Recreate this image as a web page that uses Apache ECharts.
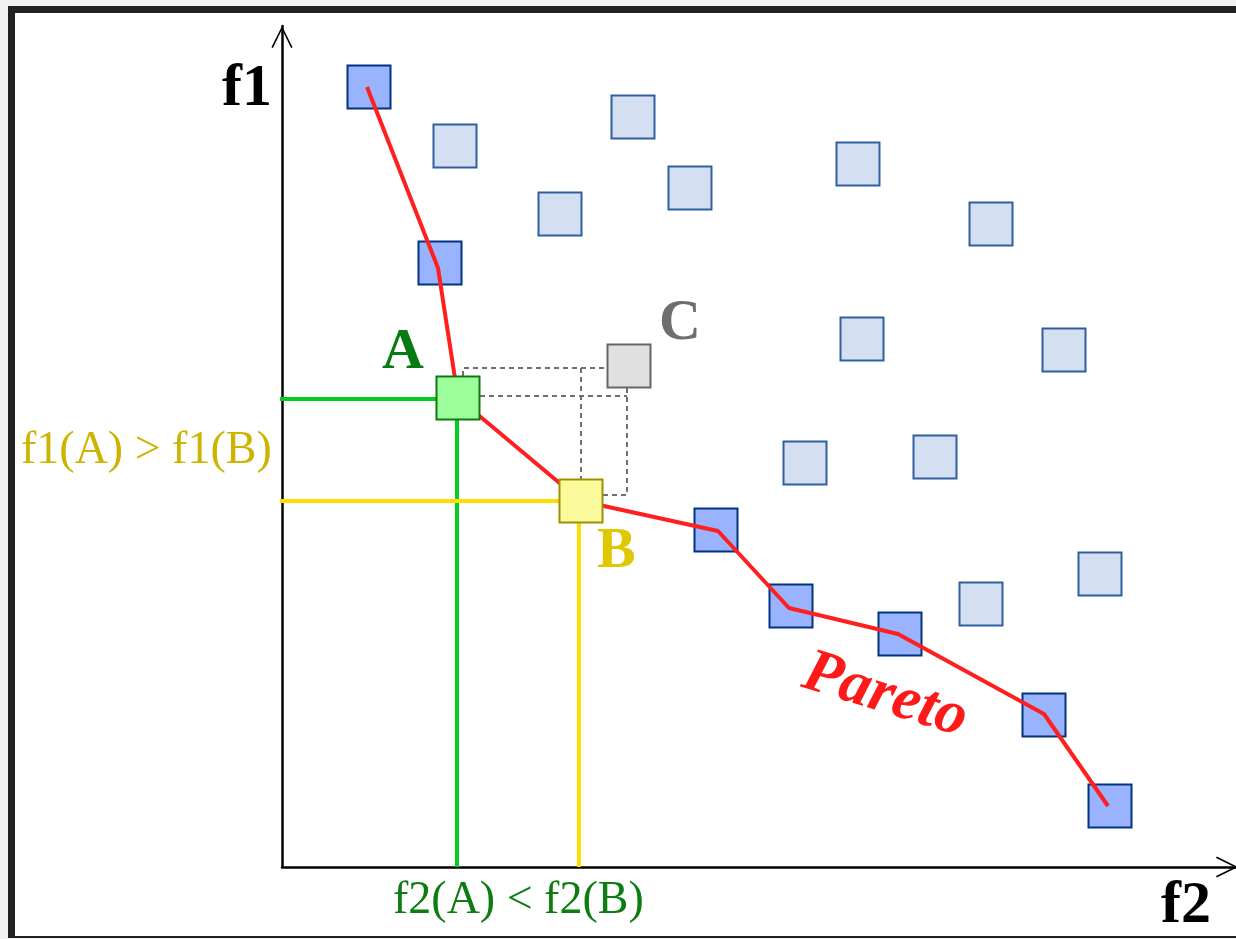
<!DOCTYPE html>
<html>
<head>
<meta charset="utf-8">
<script src="https://cdn.jsdelivr.net/npm/echarts@6/dist/echarts.min.js"></script>
<style>
html,body{margin:0;padding:0;background:#f2f2f2;}
#chart{width:1236px;height:939px;}
</style>
</head>
<body>
<div id="chart"></div>
<script>
// Data (f2 horizontal, f1 vertical)
const dominatedF2 = [173, 351, 278, 408, 576, 709, 580, 782, 523, 653, 699, 818];
const dominatedF1 = [721, 750, 653, 679, 703, 643, 528, 517, 404, 410, 263, 293];
const paretoF2 = [87, 158, 434, 509, 618, 762, 828];
const paretoF1 = [780, 604, 337, 261, 233, 152, 61];
const frontF2 = [85, 156, 176, 299, 436, 507, 616, 762, 826];
const frontF1 = [780, 599, 469, 366, 336, 259, 233, 153, 61];
const pointA = [176, 469];
const pointB = [299, 366];
const pointC = [347, 501];
const guideA = [[-3, 468], [175, 468], [175, 0]];
const guideB = [[-3, 366], [297, 366], [297, 0]];
const dashedSegments = [
  [[181, 491], [181, 499], [325, 499]],
  [[198, 471], [345, 471]],
  [[345, 479], [345, 372], [321, 372]],
  [[299, 499], [299, 388]]
];
const labelF1 = 'f1', labelF2 = 'f2';
const labelA = 'A', labelB = 'B', labelC = 'C', labelPareto = 'Pareto';
const relF1 = 'f1(A) > f1(B)', relF2 = 'f2(A) < f2(B)';

const zip = (xs, ys) => xs.map((x, i) => [x, ys[i]]);
const SERIF = '"Liberation Serif", "DejaVu Serif", serif';
const arrowPath = 'path://M10 0 L20 20 L18.6 20.8 L10 3.4 L1.4 20.8 L0 20 Z';

const chart = echarts.init(document.getElementById('chart'), null, {renderer: 'canvas'});

function sq(data, fill, border, z) {
  return {
    type: 'scatter', data: data, symbol: 'rect', symbolSize: 43, z: z,
    itemStyle: {color: fill, borderColor: border, borderWidth: 2, opacity: 1},
    emphasis: {disabled: true}, silent: true
  };
}
function ln(data, color, width, z, type) {
  return {
    type: 'line', data: data, showSymbol: false, symbol: 'none', clip: false, z: z,
    lineStyle: {color: color, width: width, type: type || 'solid'},
    emphasis: {disabled: true}, silent: true
  };
}

const series = [
  sq(zip(dominatedF2, dominatedF1), '#d4e0f1', '#2f5f9f', 2),
  sq(zip(paretoF2, paretoF1), '#99b3ff', '#003380', 2),
  ln(zip(frontF2, frontF1), '#ff1f1f', 4, 3),
  ln(guideA, '#05cc20', 4, 3),
  ln(guideB, '#ffdd00', 4, 3)
];
dashedSegments.forEach(s => series.push(ln(s, '#707070', 2, 3, [5, 4])));
series.push(sq([pointA], '#9cff9c', '#117711', 5));
series.push(sq([pointB], '#fafa9c', '#a09000', 5));
series.push(sq([pointC], '#e0e0e0', '#666666', 5));

function txt(text, x, y, size, color, weight, style, extra) {
  return Object.assign({
    type: 'text', x: x, y: y, z: 100, silent: true,
    style: {text: text, fill: color, font: (style || 'normal') + ' ' + (weight || 'normal') + ' ' + size + 'px ' + SERIF,
      textAlign: 'left', textVerticalAlign: 'middle', verticalAlign: 'middle'}
  }, extra || {});
}

const option = {
  animation: false,
  backgroundColor: '#f2f2f2',
  grid: {left: 282, top: 26, width: 956, height: 841, containLabel: false, outerBoundsMode: 'none'},
  xAxis: {
    type: 'value', min: 0, max: 956,
    axisLine: {show: true, onZero: false, lineStyle: {color: '#000', width: 2.5},
      symbol: ['none', arrowPath], symbolSize: [23, 22], symbolOffset: [0, -11]},
    axisTick: {show: false}, axisLabel: {show: false}, splitLine: {show: false}
  },
  yAxis: {
    type: 'value', min: 0, max: 841,
    axisLine: {show: true, onZero: false, lineStyle: {color: '#000', width: 2.5},
      symbol: ['none', arrowPath], symbolSize: [23, 22], symbolOffset: [0, -11]},
    axisTick: {show: false}, axisLabel: {show: false}, splitLine: {show: false}
  },
  graphic: [
    {type: 'rect', z: -10, silent: true, shape: {x: 8, y: 6, width: 1240, height: 932}, style: {fill: '#222222'}},
    {type: 'rect', z: -9, silent: true, shape: {x: 15, y: 13, width: 1240, height: 923}, style: {fill: '#ffffff'}},
    txt(labelF1, 222, 89, 60, '#000', 'bold'),
    txt(labelF2, 1161, 906, 60, '#000', 'bold'),
    txt(labelA, 382, 353, 58, '#087a12', 'bold'),
    txt(labelC, 659, 324, 58, '#6e6e6e', 'bold'),
    txt(labelB, 597, 552, 58, '#e0c800', 'bold'),
    txt(relF1, 21, 451, 46, '#ccb400'),
    txt(relF2, 393, 901, 46, '#0d7d12'),
    {type: 'text', x: 885, y: 696, rotation: -0.30, z: 100, silent: true,
      style: {text: labelPareto, fill: '#ff1a1a', font: 'italic bold 62px ' + SERIF,
        textAlign: 'center', verticalAlign: 'middle', textVerticalAlign: 'middle'}}
  ],
  series: series
};
chart.setOption(option);
</script>
</body>
</html>
